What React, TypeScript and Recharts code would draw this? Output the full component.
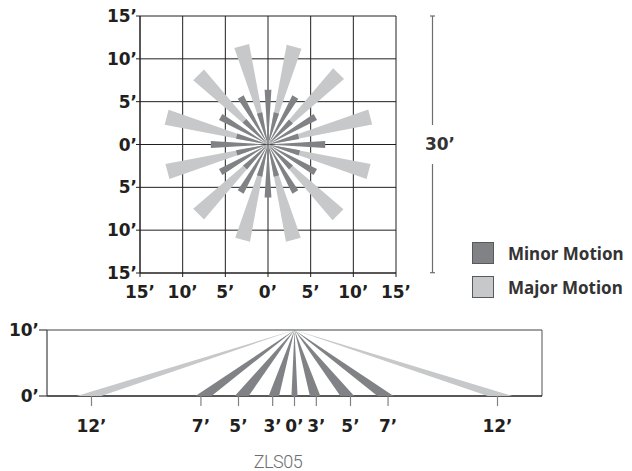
import React from 'react';
import { ScatterChart, Scatter, XAxis, YAxis, CartesianGrid, ReferenceLine } from 'recharts';

// ---------- data: top (floor) pattern, feet ----------
const gridTicks = [-15, -10, -5, 0, 5, 10, 15];
const majorAngles = [15, 45, 75, 105, 135, 165, 195, 225, 255, 285, 315, 345];
const majorLengths = [11.8, 11.7, 12.4, 12.2, 11.6, 11.5, 11.5, 11.5, 12.2, 12.3, 11.5, 11.9];
const minorLongAngles = [0, 30, 60, 90, 120, 150, 180, 210, 240, 270, 300, 330];
const minorLongLengths = [6.4, 6.4, 6.4, 6.7, 6.4, 6.4, 6.2, 6.4, 6.4, 6.7, 6.4, 6.4];
const minorShortAngles = [15, 45, 75, 105, 135, 165, 195, 225, 255, 285, 315, 345];
const minorShortLengths = [3.8, 3.8, 3.7, 3.8, 3.8, 3.8, 3.8, 3.8, 3.8, 3.8, 3.9, 3.8];
const dimensionLabel = '30’';

// ---------- data: side view ----------
const sideTickPositions = [-12, -5.53, -3.31, -1.29, 0, 1.29, 3.31, 5.53, 12];
const sideTickLabels = ['12’', '7’', '5’', '3’', '0’', '3’', '5’', '7’', '12’'];
const sideMajorX = [-12.15, 12.15];
const sideMinorX = [-5.38, -3.12, -1.22, 0, 1.22, 3.12, 5.38];
const sideHeightTicks = [0, 10];
const sideMountHeight = 10;
const sideDomain = [-14.63, 14.63];

const legendLabels = ['Minor Motion', 'Major Motion'];
const title = 'ZLS05';

// ---------- styles ----------
const MINOR = '#808285';
const MAJOR = '#c7c8ca';
const INK = '#231f20';
const MAJOR_END_W = 1.8;
const MINOR_LONG_W = 0.8;
const MINOR_SHORT_W = 0.65;
const SIDE_MAJOR_W = 1.45;
const SIDE_MINOR_W = [0.95, 0.82, 0.62, 0.36, 0.62, 0.82, 0.95];
const FONT = "'DejaVu Sans', sans-serif";

const tickStyle = { fill: INK, fontSize: 17, fontWeight: 700, fontFamily: FONT };

function wedge(angleDeg: number, length: number, endWidth: number) {
  const t = (angleDeg * Math.PI) / 180;
  const tx = length * Math.sin(t);
  const ty = length * Math.cos(t);
  const px = (Math.cos(t) * endWidth) / 2;
  const py = (-Math.sin(t) * endWidth) / 2;
  return [
    { x: 0, y: 0 },
    { x: tx + px, y: ty + py },
    { x: tx - px, y: ty - py },
  ];
}

function sideWedge(xc: number, w: number) {
  return [
    { x: 0, y: sideMountHeight },
    { x: xc - w / 2, y: 0 },
    { x: xc + w / 2, y: 0 },
  ];
}

const noDot = () => <g />;

function ray(key: string, pts: { x: number; y: number }[], color: string) {
  return (
    <Scatter
      key={key}
      data={pts}
      line={{ fill: color, stroke: 'none' }}
      shape={noDot}
      isAnimationActive={false}
      legendType="none"
    />
  );
}

const ft = (v: number) => `${Math.abs(v)}’`;

export default function App() {
  const topRays = [
    ...majorAngles.map((a, i) => ray(`M${i}`, wedge(a, majorLengths[i], MAJOR_END_W), MAJOR)),
    ...minorLongAngles.map((a, i) => ray(`L${i}`, wedge(a, minorLongLengths[i], MINOR_LONG_W), MINOR)),
    ...minorShortAngles.map((a, i) => ray(`S${i}`, wedge(a, minorShortLengths[i], MINOR_SHORT_W), MINOR)),
  ];
  const sideRays = [
    ...sideMajorX.map((x, i) => ray(`SM${i}`, sideWedge(x, SIDE_MAJOR_W), MAJOR)),
    ...sideMinorX.map((x, i) => ray(`Sm${i}`, sideWedge(x, SIDE_MINOR_W[i]), MINOR)),
  ];

  return (
    <div style={{ position: 'relative', width: 616, height: 463, fontFamily: FONT }}>
      <div style={{ position: 'absolute', left: 0, top: -8 }}>
        <ScatterChart width={440} height={308} margin={{ top: 16, right: 52, bottom: 5, left: 72 }}>
          <CartesianGrid stroke={INK} strokeWidth={1} fill="none" />
          <XAxis
            type="number"
            dataKey="x"
            domain={[-15, 15]}
            ticks={gridTicks}
            interval={0}
            tickFormatter={ft}
            tickSize={4}
            tickMargin={9}
            height={30}
            axisLine={{ stroke: INK }}
            tickLine={{ stroke: INK }}
            tick={tickStyle}
            allowDataOverflow
          />
          <YAxis
            type="number"
            dataKey="y"
            domain={[-15, 15]}
            ticks={gridTicks}
            interval={0}
            tickFormatter={ft}
            tickSize={4}
            tickMargin={-1}
            width={60}
            axisLine={{ stroke: INK }}
            tickLine={{ stroke: INK }}
            tick={tickStyle}
            allowDataOverflow
          />
          {topRays}
        </ScatterChart>
      </div>

      <svg
        width={616}
        height={300}
        style={{ position: 'absolute', left: 0, top: 0, pointerEvents: 'none' }}
      >
        <g stroke="#6d6e71" strokeWidth={1.2}>
          <line x1={424.5} y1={8} x2={424.5} y2={117} />
          <line x1={424.5} y1={156} x2={424.5} y2={264.7} />
          <line x1={422} y1={8} x2={427} y2={8} />
          <line x1={422} y1={264.7} x2={427} y2={264.7} />
        </g>
        <text
          x={432}
          y={136}
          textAnchor="middle"
          dominantBaseline="central"
          fill="#333"
          fontSize={17}
          fontWeight={700}
          fontFamily={FONT}
        >
          {dimensionLabel}
        </text>
      </svg>

      {legendLabels.map((label, i) => (
        <div
          key={label}
          style={{
            position: 'absolute',
            left: 464,
            top: 234 + i * 34,
            display: 'flex',
            alignItems: 'center',
            height: 22,
          }}
        >
          <div
            style={{
              width: 20,
              height: 20,
              background: i === 0 ? MINOR : MAJOR,
              border: '1px solid #58595b',
            }}
          />
          <span
            style={{
              marginLeft: 14,
              fontFamily: "'Noto Sans', sans-serif",
              fontSize: 17,
              fontWeight: 700,
              color: '#333',
              whiteSpace: 'nowrap',
              lineHeight: 1,
            }}
          >
            {label}
          </span>
        </div>
      ))}

      <div style={{ position: 'absolute', left: 0, top: 300 }}>
        <ScatterChart width={600} height={150} margin={{ top: 22, right: 66, bottom: 12, left: 3 }}>
          <ReferenceLine y={sideMountHeight} stroke="#808285" strokeWidth={1.5} />
          <ReferenceLine x={sideDomain[1]} stroke="#6d6e71" strokeWidth={1.2} />
          <XAxis
            type="number"
            dataKey="x"
            domain={sideDomain}
            ticks={sideTickPositions}
            interval={0}
            tickFormatter={(v: number) => sideTickLabels[sideTickPositions.indexOf(v)] ?? ''}
            tickSize={10}
            tickMargin={14}
            height={50}
            axisLine={{ stroke: INK, strokeWidth: 1.5 }}
            tickLine={{ stroke: '#808285', strokeWidth: 1.2 }}
            tick={tickStyle}
            allowDataOverflow
          />
          <YAxis
            type="number"
            dataKey="y"
            domain={[0, sideMountHeight]}
            ticks={sideHeightTicks}
            interval={0}
            tickFormatter={ft}
            tickSize={8}
            tickMargin={0}
            width={36}
            axisLine={{ stroke: '#414042', strokeWidth: 1.2 }}
            tickLine={{ stroke: '#414042', strokeWidth: 1.2 }}
            tick={tickStyle}
            allowDataOverflow
          />
          {sideRays}
        </ScatterChart>
      </div>

      <div
        style={{
          position: 'absolute',
          left: 270,
          top: 454,
          transform: 'translate(-50%, -50%)',
          fontFamily: 'Roboto, sans-serif',
          fontWeight: 300,
          fontSize: 18,
          lineHeight: 1,
          letterSpacing: -0.5,
          color: '#6d6e71',
          whiteSpace: 'nowrap',
        }}
      >
        {title}
      </div>
    </div>
  );
}
